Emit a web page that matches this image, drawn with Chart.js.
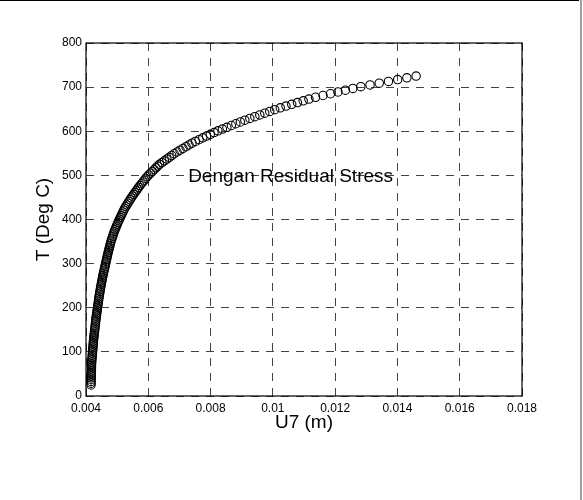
<!DOCTYPE html>
<html>
<head>
<meta charset="utf-8">
<script src="https://cdn.jsdelivr.net/npm/chart.js@4/dist/chart.umd.min.js"></script>
<style>
  body { margin: 0; background: #fff; }
  #wrap { position: relative; width: 583px; height: 500px; }
  #topline { position: absolute; left: 0; top: 0; width: 579px; height: 1px; background: #000; }
  #rightline { position: absolute; left: 580px; top: 0; width: 2px; height: 500px; background: #a0a0a0; }
</style>
</head>
<body>
<div id="wrap">
  <canvas id="myChart" width="583" height="500"></canvas>
  <div id="topline"></div>
  <div id="rightline"></div>
</div>
<script>
// temperature steps (deg C)
var tempC = [
  25, 29, 33, 37, 41, 45, 49, 53, 57, 61,
  65, 69, 73, 77, 81, 85, 89, 93, 97, 101,
  105, 109, 113, 117, 121, 125, 129, 133, 137, 141,
  145, 149, 153, 157, 161, 165, 169, 173, 177, 181,
  185, 189, 193, 197, 201, 205, 209, 213, 217, 221,
  225, 229, 233, 237, 241, 245, 249, 253, 257, 261,
  265, 269, 273, 277, 281, 285, 289, 293, 297, 301,
  305, 309, 313, 317, 321, 325, 329, 333, 337, 341,
  345, 349, 353, 357, 361, 365, 369, 373, 377, 381,
  385, 389, 393, 397, 401, 405, 409, 413, 417, 421,
  425, 429, 433, 437, 441, 445, 449, 453, 457, 461,
  465, 469, 473, 477, 481, 485, 489, 493, 497, 501,
  505, 509, 513, 517, 521, 525, 529, 533, 537, 541,
  545, 549, 553, 557, 561, 565, 569, 573, 577, 581,
  585, 589, 593, 597, 601, 605, 609, 613, 617, 621,
  625, 629, 633, 637, 641, 645, 649, 653, 657, 661,
  665, 669, 673, 677, 681, 685, 689, 693, 697, 701,
  705, 709, 713, 717, 721, 725
]

// displacement U7 (m) at each step
var u7 = [
  0.004160, 0.004162, 0.004163, 0.004165, 0.004166, 0.004168, 0.004170, 0.004171, 0.004173, 0.004174,
  0.004176, 0.004178, 0.004179, 0.004182, 0.004187, 0.004192, 0.004197, 0.004202, 0.004206, 0.004211,
  0.004216, 0.004221, 0.004226, 0.004230, 0.004235, 0.004240, 0.004246, 0.004253, 0.004259, 0.004266,
  0.004272, 0.004278, 0.004285, 0.004291, 0.004298, 0.004304, 0.004310, 0.004317, 0.004324, 0.004332,
  0.004340, 0.004348, 0.004356, 0.004364, 0.004372, 0.004380, 0.004388, 0.004396, 0.004404, 0.004412,
  0.004420, 0.004430, 0.004439, 0.004449, 0.004458, 0.004468, 0.004478, 0.004488, 0.004500, 0.004511,
  0.004522, 0.004533, 0.004544, 0.004556, 0.004569, 0.004582, 0.004595, 0.004608, 0.004620, 0.004633,
  0.004646, 0.004659, 0.004672, 0.004684, 0.004697, 0.004710, 0.004724, 0.004739, 0.004753, 0.004768,
  0.004782, 0.004796, 0.004814, 0.004834, 0.004853, 0.004872, 0.004891, 0.004910, 0.004932, 0.004956,
  0.004980, 0.005004, 0.005028, 0.005052, 0.005077, 0.005104, 0.005131, 0.005158, 0.005186, 0.005213,
  0.005240, 0.005275, 0.005310, 0.005346, 0.005381, 0.005416, 0.005451, 0.005490, 0.005530, 0.005570,
  0.005610, 0.005650, 0.005690, 0.005733, 0.005780, 0.005826, 0.005872, 0.005919, 0.005965, 0.006014,
  0.006072, 0.006130, 0.006187, 0.006245, 0.006302, 0.006360, 0.006438, 0.006517, 0.006595, 0.006674,
  0.006752, 0.006830, 0.006922, 0.007018, 0.007114, 0.007210, 0.007306, 0.007402, 0.007510, 0.007630,
  0.007750, 0.007870, 0.007990, 0.008110, 0.008236, 0.008380, 0.008524, 0.008668, 0.008812, 0.008956,
  0.009100, 0.009260, 0.009420, 0.009580, 0.009740, 0.009900, 0.010060, 0.010238, 0.010422, 0.010606,
  0.010790, 0.010974, 0.011158, 0.011370, 0.011610, 0.011850, 0.012090, 0.012330, 0.012570, 0.012824,
  0.013120, 0.013416, 0.013712, 0.014008, 0.014304, 0.014600
]

// axis ticks
var xTicks = [0.004, 0.006, 0.008, 0.010, 0.012, 0.014, 0.016, 0.018]
var xTickLabels = ['0.004', '0.006', '0.008', '0.01', '0.012', '0.014', '0.016', '0.018']
var yTicks = [0, 100, 200, 300, 400, 500, 600, 700, 800]

var noteText = 'Dengan Residual Stress'

var FONT = "'Liberation Sans', Arial, sans-serif"

// black box round the plot area + the text note
var framePlugin = {
  id: 'frame',
  afterDraw: function(chart) {
    var ctx = chart.ctx
    var a = chart.chartArea
    ctx.save()
    ctx.strokeStyle = '#000'
    ctx.lineWidth = 1.2
    ctx.strokeRect(a.left, a.top, a.right - a.left, a.bottom - a.top)

    var xs = chart.scales.x, ys = chart.scales.y
    ctx.fillStyle = '#000'
    ctx.font = '19px ' + FONT
    ctx.textAlign = 'left'
    ctx.textBaseline = 'alphabetic'
    ctx.fillText(noteText, xs.getPixelForValue(0.00728), ys.getPixelForValue(500) + 7)
    ctx.restore()
  }
}

var points = u7.map(function(u, i) { return { x: u, y: tempC[i] } })

var ctx = document.getElementById('myChart').getContext('2d')
var chart = new Chart(ctx, {
  type: 'scatter',
  data: {
    datasets: [{
      label: 'T',
      data: points,
      pointStyle: 'circle',
      pointRadius: 4.2,
      pointBackgroundColor: 'rgba(0,0,0,0)',
      pointBorderColor: '#000',
      pointBorderWidth: 1.1
    }]
  },
  options: {
    responsive: false,
    animation: false,
    layout: { padding: { left: 0, right: 61, top: 43, bottom: 54 } },
    plugins: {
      legend: { display: false },
      tooltip: { enabled: false }
    },
    scales: {
      x: {
        type: 'linear',
        min: 0.004,
        max: 0.018,
        afterBuildTicks: function(axis) { axis.ticks = xTicks.map(function(v) { return { value: v } }) },
        afterFit: function(axis) { axis.height = 50 },
        ticks: {
          color: '#000',
          padding: 5,
          font: { family: FONT, size: 12 },
          callback: function(v) { return xTickLabels[xTicks.indexOf(v)] }
        },
        grid: { color: '#444', lineWidth: 1, drawTicks: false },
        border: { display: false, dash: [8, 7] },
        title: {
          display: true,
          text: 'U7 (m)',
          color: '#000',
          font: { family: FONT, size: 19 },
          padding: { top: 0, bottom: 12 }
        }
      },
      y: {
        type: 'linear',
        min: 0,
        max: 800,
        afterBuildTicks: function(axis) { axis.ticks = yTicks.map(function(v) { return { value: v } }) },
        afterFit: function(axis) { axis.width = 86 },
        ticks: {
          color: '#000',
          padding: 4,
          font: { family: FONT, size: 12 }
        },
        grid: { color: '#444', lineWidth: 1, drawTicks: false },
        border: { display: false, dash: [8, 7] },
        title: {
          display: true,
          text: 'T (Deg C)',
          color: '#000',
          font: { family: FONT, size: 19 },
          padding: { top: 32, bottom: 0 }
        }
      }
    }
  },
  plugins: [framePlugin]
})
</script>
</body>
</html>
